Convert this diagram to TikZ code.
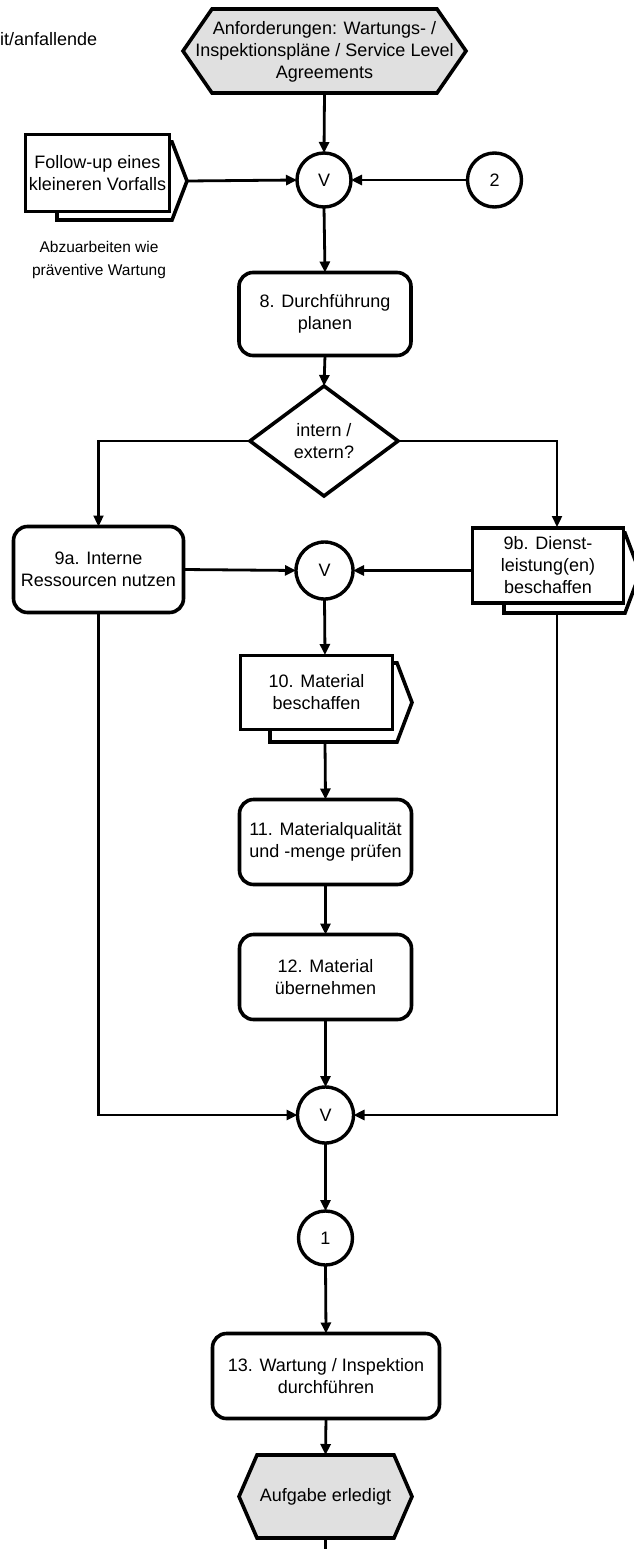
\documentclass[tikz,border=0pt]{standalone}
\usepackage{fontspec}
\setmainfont{Liberation Sans}
\usetikzlibrary{arrows.meta}
\begin{document}
\begin{tikzpicture}[x=1pt,y=-1pt,
  font=\fontsize{18}{22}\selectfont,
  proc/.style={draw, line width=3.6pt, rounded corners=14pt, fill=white, align=center, inner sep=0pt, outer sep=0pt},
  iface/.style={draw, line width=3.6pt, fill=white, align=center, inner sep=0pt, outer sep=0pt},
  back/.style={draw, line width=3.6pt, fill=white, line join=miter},
  hexbox/.style={draw=none, align=center, inner sep=0pt, outer sep=0pt},
  hexline/.style={draw, line width=3.6pt, fill=black!12, line join=miter},
  conn/.style={circle, draw, line width=3.4pt, fill=white, minimum size=54pt, inner sep=0pt, outer sep=0pt},
  dec/.style={draw=none, align=center, inner sep=0pt, outer sep=0pt},
  arr/.style={line width=2.8pt, -{Triangle[length=11pt,width=10pt]}},
  ln/.style={line width=2.8pt},
  note/.style={align=center, inner sep=0pt}
]
\useasboundingbox (0,0) rectangle (633,1549);

% cut-off text at top left
\node[anchor=west, inner sep=0pt] (cut) at (0,39) {it/anfallende};

% top event
\node[hexbox, minimum width=283pt, minimum height=84pt] (req) at (324.5,51) {};
\draw[hexline] ([xshift=29pt]req.north west) -- ([xshift=-29pt]req.north east) -- (req.east)
  -- ([xshift=-29pt]req.south east) -- ([xshift=29pt]req.south west) -- (req.west) -- cycle;
\node[hexbox] (reqtxt) at (324.5,52) {Anforderungen: Wartungs- /\\Inspektionspläne / Service Level\\Agreements};

% follow-up (process interface with shadow)
\draw[back] (57,142) -- (172,142) -- (187,181) -- (172,220) -- (57,220) -- cycle;
\coordinate (futip) at (187,181);
\node[iface, minimum width=144pt, minimum height=77pt] (fu) at (97.5,173) {Follow-up eines\\kleineren Vorfalls};
\node[note, font=\fontsize{15.5}{23}\selectfont] (abz) at (99,260) {Abzuarbeiten wie\\präventive Wartung};

% connectors row 1
\node[conn] (v1) at (324,180) {\fontsize{18}{20}\selectfont V};
\node[conn] (c2) at (494.5,180) {2};

% 8
\node[proc, minimum width=172pt, minimum height=83pt] (p8) at (325,314) {8. Durchführung\\planen};

% decision
\node[dec, minimum width=148pt, minimum height=110pt] (d) at (324,441) {};
\draw[line width=3.6pt, fill=white, line join=miter] (d.north) -- (d.east) -- (d.south) -- (d.west) -- cycle;
\node[dec] (dtxt) at (324,441) {intern /\\extern?};

% 9a
\node[proc, minimum width=170pt, minimum height=86pt] (p9a) at (98.5,569.5) {9a. Interne\\Ressourcen nutzen};

% 9b
\draw[back] (504,533) -- (625,533) -- (640,573) -- (625,613) -- (504,613) -- cycle;
\node[iface, minimum width=151pt, minimum height=75pt] (p9b) at (548,565.5) {9b. Dienst-\\leistung(en)\\beschaffen};
\coordinate (b9in) at (557,527);
\coordinate (b9out) at (557,613);

\node[conn, minimum size=57pt] (v2) at (324.5,570.5) {\fontsize{18}{20}\selectfont V};

% 10
\draw[back] (270,663) -- (397,663) -- (412,702.5) -- (397,742) -- (270,742) -- cycle;
\node[iface, minimum width=152pt, minimum height=74pt] (m10) at (316.5,692.5) {10. Material\\beschaffen};
\coordinate (m10in) at (325,655);
\coordinate (m10out) at (325,742);

% 11, 12
\node[proc, minimum width=172pt, minimum height=85pt] (p11) at (325.5,842) {11. Materialqualität\\und -menge prüfen};
\node[proc, minimum width=172pt, minimum height=85pt] (p12) at (325.5,977) {12. Material\\übernehmen};

\node[conn, minimum size=56pt] (v3) at (325.5,1115) {\fontsize{18}{20}\selectfont V};
\node[conn] (c1) at (325.5,1238) {1};

% 13
\node[proc, minimum width=227pt, minimum height=85pt] (p13) at (326,1376) {13. Wartung / Inspektion\\durchführen};

% end event
\node[hexbox, minimum width=173pt, minimum height=83pt] (fin) at (325.5,1496.5) {};
\draw[hexline] ([xshift=18pt]fin.north west) -- ([xshift=-18pt]fin.north east) -- (fin.east)
  -- ([xshift=-18pt]fin.south east) -- ([xshift=18pt]fin.south west) -- (fin.west) -- cycle;
\node[hexbox] (fintxt) at (325.5,1497) {Aufgabe erledigt};
\coordinate (finout) at (325.5,1552);

% connectors
\draw[arr] (req.south) -- (v1.north);
\draw[arr] (futip) -- (v1.west);
\draw[arr] (c2.west) -- (v1.east);
\draw[arr] (v1.south) -- (p8.north);
\draw[arr] (p8.south) -- (d.north);
\draw[arr, line width=2.3pt] (d.west) -| (p9a.north);
\draw[arr, line width=2.3pt] (d.east) -| (b9in);
\draw[arr] (p9a.east) -- (v2.west);
\draw[arr] (p9b.west |- v2.east) -- (v2.east);
\draw[arr] (v2.south) -- (m10in);
\draw[arr] (m10out) -- (p11.north);
\draw[arr] (p11.south) -- (p12.north);
\draw[arr] (p12.south) -- (v3.north);
\draw[arr] (p9a.south) |- (v3.west);
\draw[arr] (b9out) |- (v3.east);
\draw[arr] (v3.south) -- (c1.north);
\draw[arr] (c1.south) -- (p13.north);
\draw[arr] (p13.south) -- (fin.north);
\draw[ln] (fin.south) -- (finout);
\end{tikzpicture}
\end{document}
